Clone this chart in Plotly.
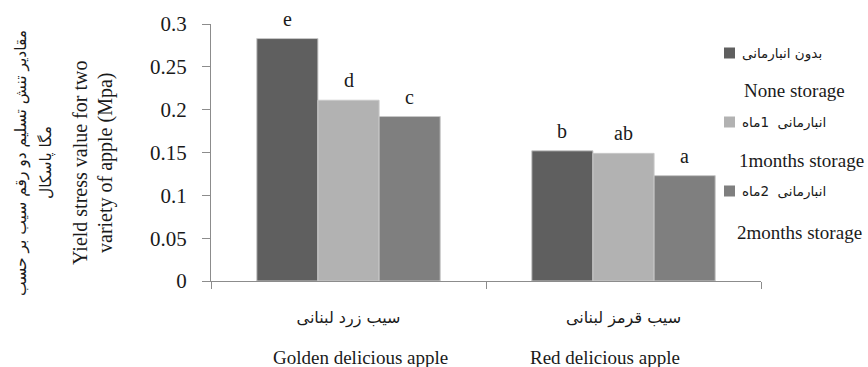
import plotly.graph_objects as go

# Categories (Persian tick labels with English captions underneath)
categories = ["سیب زرد لبنانی", "سیب قرمز لبنانی"]
categories_en = ["Golden delicious apple", "Red delicious apple"]

# Storage treatments
series_fa = ["بدون انبارمانی", "انبارمانی  1ماه", "انبارمانی  2ماه"]
series_en = ["None storage", "1months storage", "2months storage"]

# Yield stress (MPa)
none_storage = [0.283, 0.152]
one_month = [0.211, 0.149]
two_months = [0.192, 0.123]

# Significance letters
none_letters = ["e", "b"]
one_letters = ["d", "ab"]
two_letters = ["c", "a"]

y_tickvals = [0, 0.05, 0.1, 0.15, 0.2, 0.25, 0.3]
y_ticktext = ["0", "0.05", "0.1", "0.15", "0.2", "0.25", "0.3"]

colors = ["#5f5f5f", "#b2b2b2", "#7f7f7f"]
values = [none_storage, one_month, two_months]
letters = [none_letters, one_letters, two_letters]

W, H = 868, 367
ML, MR, MT, MB = 211, 107, 24, 86
PW, PH = W - ML - MR, H - MT - MB
BARGAP = 0.333

SERIF = "Liberation Serif, Times New Roman, serif"
FA = "DejaVu Sans, sans-serif"
TXT = "#1a1a1a"
AX = "#8c8c8c"


def px_x(px):
    return (px - ML) / PW


def px_y(py):
    return (H - MB - py) / PH


fig = go.Figure()
for name, vals, col in zip(series_fa, values, colors):
    fig.add_trace(go.Bar(
        x=categories, y=vals, name=name,
        marker=dict(color=col, line=dict(color="#c8c8c8", width=1)),
        showlegend=False,
    ))

annotations = []

# Letters above each bar
bar_w = PW / len(categories) * (1 - BARGAP) / len(values)
for i, (vals, labs) in enumerate(zip(values, letters)):
    for cat, v, lab in zip(categories, vals, labs):
        annotations.append(dict(
            x=cat, y=v, xref="x", yref="y", text=lab, showarrow=False,
            xanchor="center", yanchor="bottom",
            xshift=(i - 1) * bar_w, yshift=7,
            font=dict(family=SERIF, size=20, color=TXT),
        ))

# English captions under category labels
for cat, en, shift in zip(categories, categories_en, [12, -19]):
    annotations.append(dict(
        x=cat, y=px_y(357), xref="x", yref="paper", text=en, showarrow=False,
        xanchor="center", yanchor="middle", xshift=shift,
        font=dict(family=SERIF, size=19, color=TXT),
    ))

# Y-axis titles (Persian and English, each on two lines)
ytitle_lines = [
    ("مقادیر تنش تسلیم دو رقم سیب بر حسب", 21, FA, 15.5),
    ("مگا پاسکال", 46, FA, 15.5),
    ("Yield stress value for two", 80, SERIF, 20),
    ("variety of apple (Mpa)", 105, SERIF, 20),
]
for txt, xc, fam, sz in ytitle_lines:
    annotations.append(dict(
        x=px_x(xc), y=px_y(163), xref="paper", yref="paper", text=txt,
        showarrow=False, textangle=-90, xanchor="center", yanchor="middle",
        font=dict(family=fam, size=sz, color=TXT),
    ))

# Legend
shapes = []
sq_y = [53, 122, 191]
en_y = [90, 160, 232]
en_x = [742, 737, 735]
for col, fa, en, sy, ey, ex in zip(colors, series_fa, series_en, sq_y, en_y, en_x):
    shapes.append(dict(
        type="rect", xref="paper", yref="paper",
        x0=px_x(724), x1=px_x(735), y0=px_y(sy + 5.5), y1=px_y(sy - 5.5),
        fillcolor=col, line=dict(width=0),
    ))
    annotations.append(dict(
        x=px_x(740), y=px_y(sy), xref="paper", yref="paper", text=fa,
        showarrow=False, xanchor="left", yanchor="middle",
        font=dict(family=FA, size=13.5, color=TXT),
    ))
    annotations.append(dict(
        x=px_x(ex), y=px_y(ey), xref="paper", yref="paper", text=en,
        showarrow=False, xanchor="left", yanchor="middle",
        font=dict(family=SERIF, size=19, color=TXT),
    ))

fig.update_layout(
    width=W, height=H,
    margin=dict(l=ML, r=MR, t=MT, b=MB, pad=0),
    paper_bgcolor="white", plot_bgcolor="white",
    barmode="group", bargap=BARGAP, bargroupgap=0,
    annotations=annotations, shapes=shapes,
    xaxis=dict(
        type="category", tickson="boundaries", ticks="outside", ticklen=7,
        tickcolor=AX, showline=True, linecolor=AX, linewidth=1,
        showgrid=False, ticklabelstandoff=22,
        tickfont=dict(family=FA, size=16, color=TXT),
    ),
    yaxis=dict(
        range=[0, 0.3], tickvals=y_tickvals, ticktext=y_ticktext,
        ticks="outside", ticklen=8, tickcolor=AX, showline=True,
        linecolor=AX, linewidth=1, showgrid=False, zeroline=False,
        ticklabelstandoff=11,
        tickfont=dict(family=SERIF, size=21, color=TXT),
    ),
)

fig.write_html("out.html")
